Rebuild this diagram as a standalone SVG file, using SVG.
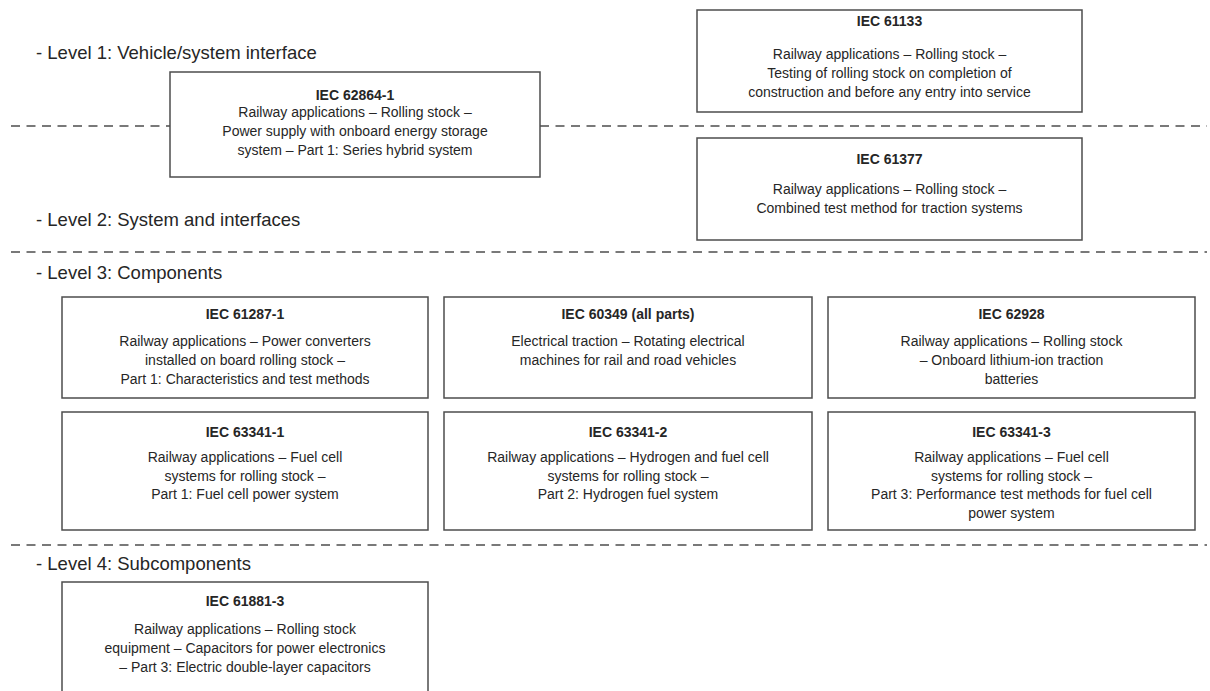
<svg xmlns="http://www.w3.org/2000/svg" width="1210" height="691" viewBox="0 0 1210 691">
<style>
text{font-family:"Liberation Sans",Arial,sans-serif;fill:#262626}
.lvl{font-size:18.5px}
.t{font-size:14px;font-weight:bold;text-anchor:middle}
.b{font-size:14px;text-anchor:middle}
.box{fill:#fff;stroke:#4d4d4d;stroke-width:1.5}
.sep{stroke:#4d4d4d;stroke-width:1.5;stroke-dasharray:9 6.5;fill:none}
</style>
<rect width="1210" height="691" fill="#fff"/>
<g id="separators">
<line class="sep" x1="11" y1="126" x2="170" y2="126"/>
<line class="sep" x1="540" y1="126" x2="1207" y2="126"/>
<line class="sep" x1="11" y1="252" x2="1207" y2="252"/>
<line class="sep" x1="11" y1="545" x2="1207" y2="545"/>
</g>
<g id="levels">
<text class="lvl" x="36" y="59">- Level 1: Vehicle/system interface</text>
<text class="lvl" x="36" y="226">- Level 2: System and interfaces</text>
<text class="lvl" x="36" y="279">- Level 3: Components</text>
<text class="lvl" x="36" y="570">- Level 4: Subcomponents</text>
</g>
<g id="iec62864-1">
<rect class="box" x="170" y="72" width="370" height="105"/>
<text class="t" x="355" y="100">IEC 62864-1</text>
<text class="b" x="355" y="117">Railway applications – Rolling stock –</text>
<text class="b" x="355" y="136">Power supply with onboard energy storage</text>
<text class="b" x="355" y="155">system – Part 1: Series hybrid system</text>
</g>
<g id="iec61133">
<rect class="box" x="697" y="10" width="385" height="102"/>
<text class="t" x="889.5" y="26">IEC 61133</text>
<text class="b" x="889.5" y="59">Railway applications – Rolling stock –</text>
<text class="b" x="889.5" y="78">Testing of rolling stock on completion of</text>
<text class="b" x="889.5" y="97">construction and before any entry into service</text>
</g>
<g id="iec61377">
<rect class="box" x="697" y="138" width="385" height="102"/>
<text class="t" x="889.5" y="164">IEC 61377</text>
<text class="b" x="889.5" y="194">Railway applications – Rolling stock –</text>
<text class="b" x="889.5" y="213">Combined test method for traction systems</text>
</g>
<g id="iec61287-1">
<rect class="box" x="62" y="297" width="366" height="101"/>
<text class="t" x="245" y="319">IEC 61287-1</text>
<text class="b" x="245" y="346">Railway applications – Power converters</text>
<text class="b" x="245" y="365">installed on board rolling stock –</text>
<text class="b" x="245" y="384">Part 1: Characteristics and test methods</text>
</g>
<g id="iec60349">
<rect class="box" x="444" y="297" width="368" height="101"/>
<text class="t" x="628" y="319">IEC 60349 (all parts)</text>
<text class="b" x="628" y="346">Electrical traction – Rotating electrical</text>
<text class="b" x="628" y="365">machines for rail and road vehicles</text>
</g>
<g id="iec62928">
<rect class="box" x="828" y="297" width="367" height="101"/>
<text class="t" x="1011.5" y="319">IEC 62928</text>
<text class="b" x="1011.5" y="346">Railway applications – Rolling stock</text>
<text class="b" x="1011.5" y="365">– Onboard lithium-ion traction</text>
<text class="b" x="1011.5" y="384">batteries</text>
</g>
<g id="iec63341-1">
<rect class="box" x="62" y="412" width="366" height="118"/>
<text class="t" x="245" y="437">IEC 63341-1</text>
<text class="b" x="245" y="462">Railway applications – Fuel cell</text>
<text class="b" x="245" y="480.5">systems for rolling stock –</text>
<text class="b" x="245" y="499">Part 1: Fuel cell power system</text>
</g>
<g id="iec63341-2">
<rect class="box" x="444" y="412" width="368" height="118"/>
<text class="t" x="628" y="437">IEC 63341-2</text>
<text class="b" x="628" y="462">Railway applications – Hydrogen and fuel cell</text>
<text class="b" x="628" y="480.5">systems for rolling stock –</text>
<text class="b" x="628" y="499">Part 2: Hydrogen fuel system</text>
</g>
<g id="iec63341-3">
<rect class="box" x="828" y="412" width="367" height="118"/>
<text class="t" x="1011.5" y="437">IEC 63341-3</text>
<text class="b" x="1011.5" y="462">Railway applications – Fuel cell</text>
<text class="b" x="1011.5" y="480.5">systems for rolling stock –</text>
<text class="b" x="1011.5" y="499">Part 3: Performance test methods for fuel cell</text>
<text class="b" x="1011.5" y="517.5">power system</text>
</g>
<g id="iec61881-3">
<rect class="box" x="62" y="582" width="366" height="120"/>
<text class="t" x="245" y="606">IEC 61881-3</text>
<text class="b" x="245" y="634">Railway applications – Rolling stock</text>
<text class="b" x="245" y="653">equipment – Capacitors for power electronics</text>
<text class="b" x="245" y="672">– Part 3: Electric double-layer capacitors</text>
</g>
</svg>
